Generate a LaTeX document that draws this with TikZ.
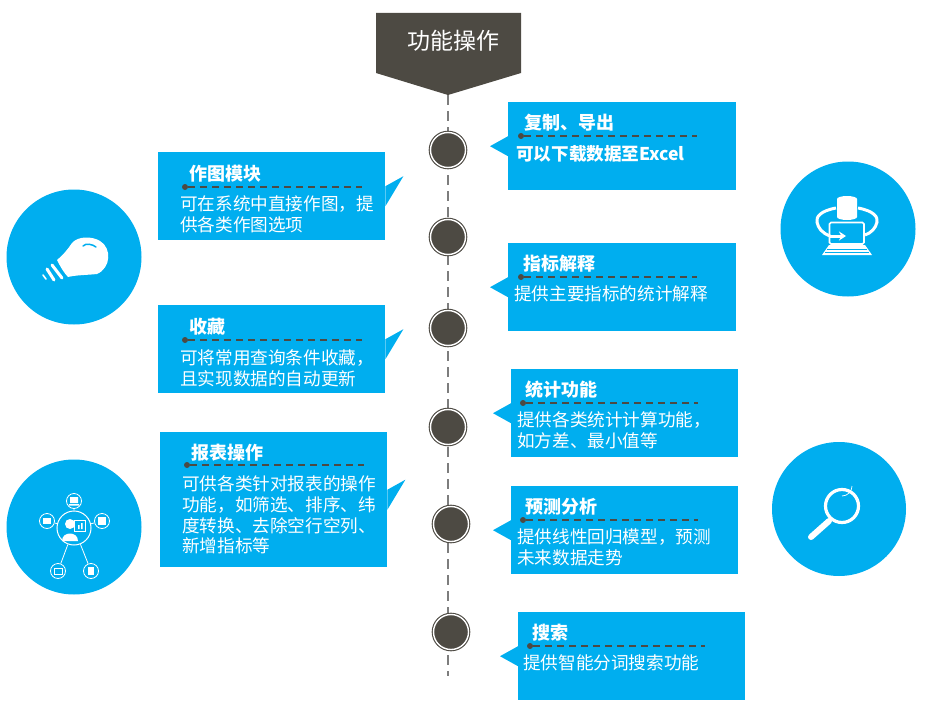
\documentclass[tikz,border=0pt]{standalone}
\usepackage{fontspec}
\setmainfont{Noto Sans CJK SC}
\usetikzlibrary{arrows.meta}
\definecolor{Sky}{RGB}{0,174,239}
\definecolor{Ink}{RGB}{77,74,67}
\definecolor{Axis}{RGB}{125,125,125}

\begin{document}
\begin{tikzpicture}[x=1pt,y=-1pt,
 panel/.style={fill=Sky,inner sep=0pt,anchor=north west,minimum width=227pt,minimum height=88pt},
 caption/.style={text=white,inner sep=0pt,anchor=west,font=\fontsize{18}{21}\selectfont\bfseries},
 note/.style={text=white,inner sep=0pt,anchor=west,align=left,font=\fontsize{17.6}{20.7}\selectfont},
 hub/.style={circle,draw=Ink,line width=1.1pt,double=white,double distance=1.4pt,fill=Ink,inner sep=0pt,minimum size=35pt},
 badge/.style={circle,fill=Sky,inner sep=0pt,minimum size=135pt},
 pin/.style={circle,fill=Ink,inner sep=0pt,minimum size=6pt},
 rule/.style={Ink,line width=1.6pt,dash pattern=on 7pt off 5pt},
 spoke/.style={circle,draw=white,line width=.8pt,inner sep=0pt,minimum size=15pt}]
\useasboundingbox (0,0) rectangle (929,709);
\fill[Ink] (376,13)--(521,13)--(521,73)--(448,95)--(376,73)--cycle;
\node[text=white,inner sep=0pt,font=\fontsize{23}{26}\selectfont] (head) at (453,41) {功能操作};
\coordinate (top) at (448,95);
\coordinate (bottom) at (448,676);
\draw[Axis,line width=1.6pt,dash pattern=on 10pt off 6pt] (top)--(bottom);
\node[hub] (h1) at (448,150) {};
\node[hub] (h2) at (448,237) {};
\node[hub] (h3) at (448,328) {};
\node[hub] (h4) at (448,427) {};
\node[hub] (h5) at (451,524) {};
\node[hub] (h6) at (451,632) {};

\node[panel,minimum width=228pt] (copy) at (508,102) {};
\fill[Sky] ([yshift=10pt]copy.west)--++(-18,10)--([yshift=-10pt]copy.west)--cycle;
\node[caption] (copyt) at (524,123) {复制、导出};
\node[pin] (copyp) at (521,136) {};
\coordinate (copye) at (697,136);
\draw[rule] (copyp)--(copye);
\node[note,font=\fontsize{17.6}{20.7}\selectfont\bfseries] (copyn) at (516,154) {可以下载数据至Excel};

\node[panel,minimum width=228pt] (expl) at (508,243) {};
\fill[Sky] ([yshift=10pt]expl.west)--++(-18,10)--([yshift=-10pt]expl.west)--cycle;
\node[caption] (explt) at (523,264) {指标解释};
\node[pin] (explp) at (521,277) {};
\coordinate (exple) at (697,277);
\draw[rule] (explp)--(exple);
\node[note] (expln) at (514,294) {提供主要指标的统计解释};

\node[panel] (stat) at (511,369) {};
\fill[Sky] ([yshift=10pt]stat.west)--++(-18,10)--([yshift=-10pt]stat.west)--cycle;
\node[caption] (statt) at (525,390) {统计功能};
\node[pin] (statp) at (523,403) {};
\coordinate (state) at (698,403);
\draw[rule] (statp)--(state);
\node[note] (statn) at (517,430) {提供各类统计计算功能，\\如方差、最小值等};

\node[panel] (pred) at (511,486) {};
\fill[Sky] ([yshift=10pt]pred.west)--++(-18,10)--([yshift=-10pt]pred.west)--cycle;
\node[caption] (predt) at (525,507) {预测分析};
\node[pin] (predp) at (523,520) {};
\coordinate (prede) at (698,520);
\draw[rule] (predp)--(prede);
\node[note] (predn) at (517,547) {提供线性回归模型，预测\\未来数据走势};

\node[panel] (find) at (518,612) {};
\fill[Sky] ([yshift=10pt]find.west)--++(-18,10)--([yshift=-10pt]find.west)--cycle;
\node[caption] (findt) at (532,633) {搜索};
\node[pin] (findp) at (530,646) {};
\coordinate (finde) at (705,646);
\draw[rule] (findp)--(finde);
\node[note] (findn) at (523,663) {提供智能分词搜索功能};

\node[panel] (plot) at (158,152) {};
\fill[Sky] ([yshift=10pt]plot.east)--++(18,-10)--([yshift=-10pt]plot.east)--cycle;
\node[caption] (plott) at (189,174) {作图模块};
\node[pin] (plotp) at (185,187) {};
\coordinate (plote) at (362,187);
\draw[rule] (plotp)--(plote);
\node[note] (plotn) at (180,214) {可在系统中直接作图，提\\供各类作图选项};

\node[panel] (fav) at (158,305) {};
\fill[Sky] ([yshift=10pt]fav.east)--++(18,-10)--([yshift=-10pt]fav.east)--cycle;
\node[caption] (favt) at (189,327) {收藏};
\node[pin] (favp) at (185,340) {};
\coordinate (fave) at (362,340);
\draw[rule] (favp)--(fave);
\node[note] (favn) at (180,368) {可将常用查询条件收藏，\\且实现数据的自动更新};

\node[panel,minimum height=135pt] (tab) at (160,432) {};
\fill[Sky] ([yshift=10pt]tab.east)--++(18,-10)--([yshift=-10pt]tab.east)--cycle;
\node[caption] (tabt) at (191,453) {报表操作};
\node[pin] (tabp) at (187,465) {};
\coordinate (tabe) at (364,465);
\draw[rule] (tabp)--(tabe);
\node[note] (tabn) at (182,515) {可供各类针对报表的操作\\功能，如筛选、排序、纬\\度转换、去除空行空列、\\新增指标等};

\node[badge] (bulb) at (74,257) {};
\fill[white] (57,260) .. controls (64,254) and (68,249) .. (72,243) .. controls (78,236) and (92,236) .. (100,241) .. controls (112,248) and (111,268) .. (97,274) .. controls (88,275) and (76,275) .. (68,277) .. controls (64,273) and (60,266) .. (57,260)--cycle;
\draw[Sky,line width=1.5pt,line cap=round] (83,246) .. controls (86,243) and (92,244) .. (96,247);
\draw[white,line width=3pt,line cap=round] (52,265)--(62,278) (47,269)--(54,280);
\draw[white,line width=1.6pt,line cap=round] (43,275)--(46,279);

\node[badge] (net) at (74,527) {};
\node[spoke,line width=1pt,minimum size=34pt] (core) at (74,528) {};
\node[spoke] (s1) at (74,501) {};
\node[spoke] (s2) at (47,521) {};
\node[spoke] (s3) at (102,521) {};
\node[spoke] (s4) at (58,571) {};
\node[spoke] (s5) at (91,571) {};
\draw[white,line width=.8pt] (core)--(s1) (core)--(s2) (core)--(s3) (core)--(s4) (core)--(s5);
\fill[white] (70,524) circle (5pt) (62,541) .. controls (62,531) and (78,531) .. (78,541)--cycle;
\draw[white,line width=.7pt] (74,520) rectangle (85,531);
\fill[white] (78,529) rectangle (79.5,525) (81,529) rectangle (82.5,523);
\fill[white] (70,497) rectangle (78,503) (69,504) rectangle (79,505.5);
\fill[white] (43,518) rectangle (51,524);
\fill[white] (98,517) rectangle (106,525);
\draw[white,line width=.7pt] (54,568) rectangle (62,574);
\fill[white] (88,567) rectangle (94,575);

\node[badge] (sync) at (848,229) {};
\draw[white,line width=3pt] (836,208) .. controls (820,211) and (816,217) .. (817,222) .. controls (818,228) and (822,233) .. (830,236);
\draw[white,line width=3pt] (858,208) .. controls (874,211) and (878,217) .. (877,222) .. controls (876,228) and (871,233) .. (865,235);
\fill[white] (837,199)--(837,217) arc[start angle=180,end angle=360,x radius=10,y radius=-3]--(857,199) arc[start angle=0,end angle=360,x radius=10,y radius=-3]--cycle;
\draw[white,line width=1.6pt,rounded corners=1.5pt] (829.5,222.5) rectangle (864,244);
\fill[white] (822,255)--(829,245)--(865,245)--(872,255)--cycle;
\draw[Sky,line width=.7pt] (827,249)--(867,249) (825,252)--(869,252);
\draw[white,line width=3pt,-{Stealth[length=7pt,width=9pt]}] (830,236)--(846,236);

\node[badge,minimum size=134pt] (lens) at (839,509) {};
\draw[white,line width=3.2pt] (842,506) circle (16.5pt);
\draw[white,line width=.7pt] (842,496) arc[start angle=90,end angle=0,radius=10];
\draw[white,line width=6pt,line cap=round] (829,521)--(811,537);
\end{tikzpicture}
\end{document}
